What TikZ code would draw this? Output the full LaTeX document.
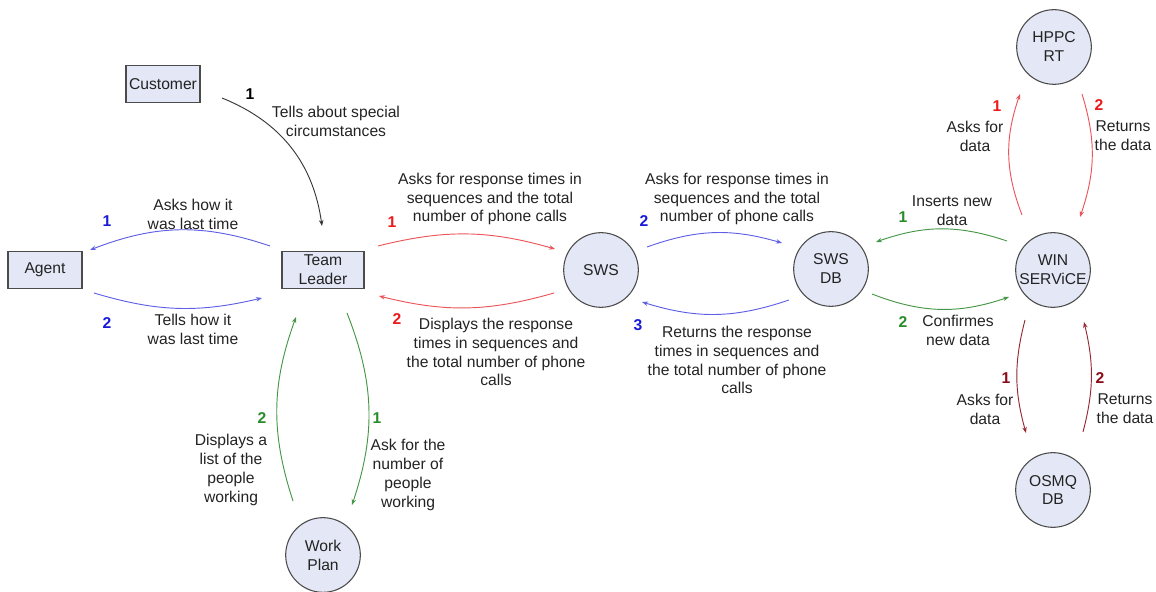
\documentclass[tikz,border=0pt]{standalone}
\usepackage{fontspec}
\setmainfont{Liberation Sans}
\usepackage{tikz}
\usetikzlibrary{arrows.meta}

\definecolor{nodefill}{RGB}{228,232,246}
\definecolor{edgegray}{RGB}{75,75,75}
\definecolor{txtgray}{RGB}{35,35,35}
\definecolor{arrblack}{RGB}{55,55,55}
\definecolor{arrblue}{RGB}{95,95,230}
\definecolor{arrred}{RGB}{235,85,90}
\definecolor{arrgreen}{RGB}{70,150,70}
\definecolor{arrdark}{RGB}{150,40,50}
\definecolor{numblue}{RGB}{25,25,215}
\definecolor{numred}{RGB}{235,25,25}
\definecolor{numgreen}{RGB}{40,140,40}
\definecolor{numdark}{RGB}{140,10,20}

\tikzset{
  every node/.style={font=\fontsize{11.75}{14.2}\selectfont, text=txtgray},
  box/.style={draw=edgegray, fill=nodefill, line width=0.8pt, minimum width=55.5pt,
    minimum height=28pt, inner sep=1pt, align=center},
  proc/.style={circle, draw=edgegray, fill=nodefill, line width=0.8pt, minimum size=56pt,
    inner sep=-2pt, align=center},
  flow/.style={line width=0.7pt, -{Stealth[length=4.5pt,width=3.4pt]}},
  note/.style={align=center},
  num/.style={font=\fontsize{11.75}{14}\selectfont\bfseries}
}

\begin{document}
\begin{tikzpicture}[x=0.75pt,y=0.75pt]
\useasboundingbox (0,0) rectangle (1156,592);

\node[box] (customer) at (163,508) {Customer};
\node[box] (agent) at (45,322) {Agent};
\node[box, minimum width=61.5pt] (leader) at (323,322) {Team\\Leader};
\node[proc] (sws) at (601,322) {SWS};
\node[proc] (swsdb) at (831,323) {SWS\\DB};
\node[proc, inner sep=-5pt] (win) at (1053,322) {WIN\\SERViCE};
\node[proc] (hppc) at (1054,545) {HPPC\\RT};
\node[proc] (osmq) at (1053,102) {OSMQ\\DB};
\node[proc] (plan) at (323,37) {Work\\Plan};

\draw[flow, arrblack] ([shift={(59,-14)}]customer.center) to[bend left=30] ([shift={(-1,44)}]leader.center);
\node[num, text=black] (n-cust) at (250,498) {1};
\node[note] (t-cust) at (336,471) {Tells about special\\circumstances};

\draw[flow, arrblue] ([shift={(-53,24)}]leader.center) to[bend right=20] ([shift={(45,20)}]agent.center);
\node[num, text=numblue] (n-ask) at (107,371) {1};
\node[note] (t-ask) at (193,378) {Asks how it\\was last time};

\draw[flow, arrblue] ([shift={(49,-23)}]agent.center) to[bend right=15] ([shift={(-61,-28)}]leader.center);
\node[num, text=numblue] (n-tell) at (107,269) {2};
\node[note] (t-tell) at (193,263) {Tells how it\\was last time};

\draw[flow, arrred] ([shift={(55,24)}]leader.center) to[bend left=15] ([shift={(-46,21)}]sws.center);
\node[num, text=numred] (n-req) at (392,370) {1};
\node[note] (t-req) at (490,393) {Asks for response times in\\sequences and the total\\number of phone calls};

\draw[flow, arrred] ([shift={(-47,-23)}]sws.center) to[bend left=15] ([shift={(56,-26)}]leader.center);
\node[num, text=numred] (n-show) at (397,273) {2};
\node[note] (t-show) at (496,240) {Displays the response\\times in sequences and\\the total number of phone\\calls};

\draw[flow, arrblue] ([shift={(46,23)}]sws.center) to[bend left=18] ([shift={(-49,26)}]swsdb.center);
\node[num, text=numblue] (n-query) at (644,371) {2};
\node[note] (t-query) at (737,393) {Asks for response times in\\sequences and the total\\number of phone calls};

\draw[flow, arrblue] ([shift={(-42,-31)}]swsdb.center) to[bend left=18] ([shift={(41,-32)}]sws.center);
\node[num, text=numblue] (n-result) at (638,267) {3};
\node[note] (t-result) at (737,232) {Returns the response\\times in sequences and\\the total number of phone\\calls};

\draw[flow, arrgreen] ([shift={(-46,29)}]win.center) to[bend right=19] ([shift={(45,27)}]swsdb.center);
\node[num, text=numgreen] (n-insert) at (903,375) {1};
\node[note] (t-insert) at (952,381) {Inserts new\\data};

\draw[flow, arrgreen] ([shift={(41,-25)}]swsdb.center) to[bend right=20] ([shift={(-44,-27)}]win.center);
\node[num, text=numgreen] (n-confirm) at (903,270) {2};
\node[note] (t-confirm) at (958,262) {Confirmes\\new data};

\draw[flow, arrred] ([shift={(-31,55)}]win.center) to[bend left=20] ([shift={(-34,-47)}]hppc.center);
\node[num, text=numred] (n-hppc-ask) at (997,486) {1};
\node[note] (t-hppc-ask) at (975,456) {Asks for\\data};

\draw[flow, arrred] ([shift={(28,-47)}]hppc.center) to[bend left=18] ([shift={(27,53)}]win.center);
\node[num, text=numred] (n-hppc-ret) at (1099,487) {2};
\node[note] (t-hppc-ret) at (1123,456) {Returns\\the data};

\draw[flow, arrdark] ([shift={(-28,-50)}]win.center) to[bend right=15] ([shift={(-27,57)}]osmq.center);
\node[num, text=numdark] (n-osmq-ask) at (1006,214) {1};
\node[note] (t-osmq-ask) at (985,183) {Asks for\\data};

\draw[flow, arrdark] ([shift={(30,58)}]osmq.center) to[bend right=14] ([shift={(31,-52)}]win.center);
\node[num, text=numdark] (n-osmq-ret) at (1100,214) {2};
\node[note] (t-osmq-ret) at (1125,183) {Returns\\the data};

\draw[flow, arrgreen] ([shift={(24,-43)}]leader.center) to[bend left=20] ([shift={(29,50)}]plan.center);
\node[num, text=numgreen] (n-plan-ask) at (377,174) {1};
\node[note] (t-plan-ask) at (408,117) {Ask for the\\number of\\people\\working};

\draw[flow, arrgreen] ([shift={(-30,54)}]plan.center) to[bend left=19] ([shift={(-27,-47)}]leader.center);
\node[num, text=numgreen] (n-plan-list) at (262,174) {2};
\node[note] (t-plan-list) at (231,122) {Displays a\\list of the\\people\\working};
\end{tikzpicture}
\end{document}
